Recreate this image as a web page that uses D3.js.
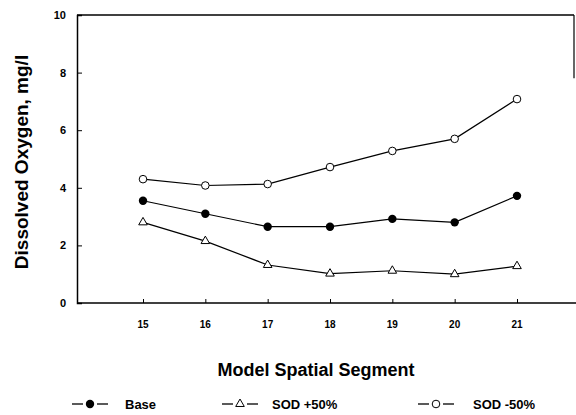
<!DOCTYPE html>
<html>
<head>
<meta charset="utf-8">
<script src="https://cdn.jsdelivr.net/npm/d3@7"></script>
<style>
  body { margin: 0; background: #fff; }
  text { font-family: "Liberation Sans", Arial, sans-serif; fill: #000; }
</style>
</head>
<body>
<div id="chart"></div>
<script>
// dissolved oxygen by model segment
const segments = [15, 16, 17, 18, 19, 20, 21];
const base = [3.55, 3.1, 2.65, 2.65, 2.92, 2.8, 3.72];
const sodPlus50 = [2.8, 2.15, 1.32, 1.02, 1.12, 1.0, 1.28];
const sodMinus50 = [4.3, 4.08, 4.13, 4.72, 5.28, 5.7, 7.08];
const yTicks = [0, 2, 4, 6, 8, 10];

const width = 576, height = 415;

const svg = d3.select('#chart')
  .append('svg')
  .attr('width', width)
  .attr('height', height);

const x = d3.scaleLinear().domain([15, 21]).range([143, 517]);
const y = d3.scaleLinear().domain([0, 10]).range([303, 15]);
const x0 = 77, x1 = 574;

// frame
svg.append('line').attr('x1', x0).attr('x2', x1).attr('y1', y(10)).attr('y2', y(10))
  .attr('stroke', '#000').attr('stroke-width', 1.5);
svg.append('line').attr('x1', x1).attr('x2', x1).attr('y1', y(10)).attr('y2', y(7.8))
  .attr('stroke', '#000').attr('stroke-width', 1.2);

// y axis
const yAxis = svg.append('g')
  .attr('transform', `translate(${x0},0)`)
  .call(d3.axisRight(y).tickValues(yTicks).tickSize(5).tickFormat(''));
yAxis.select('.domain').attr('stroke-width', 1.5);
svg.append('g').selectAll('text')
  .data(yTicks)
  .enter().append('text')
  .attr('x', 66)
  .attr('y', d => y(d) + 4)
  .attr('text-anchor', 'end')
  .attr('font-size', 11)
  .attr('font-weight', 'bold')
  .text(d => d);

// x axis
const xAxis = svg.append('g')
  .attr('transform', `translate(0,${y(0)})`)
  .call(d3.axisTop(x).tickValues(segments).tickSize(4).tickFormat(''));
xAxis.select('.domain').attr('d', `M${x0},0H${x1 + 2}`).attr('stroke-width', 1.5);
svg.append('g').selectAll('text')
  .data(segments)
  .enter().append('text')
  .attr('x', d => x(d))
  .attr('y', 328)
  .attr('text-anchor', 'middle')
  .attr('font-size', 10)
  .attr('font-weight', 'bold')
  .text(d => d);

// titles
svg.append('text')
  .attr('transform', 'translate(28,162) rotate(-90)')
  .attr('text-anchor', 'middle')
  .attr('font-size', 19)
  .attr('font-weight', 'bold')
  .text('Dissolved Oxygen, mg/l');
svg.append('text')
  .attr('x', 316)
  .attr('y', 376)
  .attr('text-anchor', 'middle')
  .attr('font-size', 18)
  .attr('font-weight', 'bold')
  .text('Model Spatial Segment');

// series
const series = [
  {name: 'Base', values: base, marker: 'dot'},
  {name: 'SOD +50%', values: sodPlus50, marker: 'tri'},
  {name: 'SOD -50%', values: sodMinus50, marker: 'circ'}
];

const line = d3.line()
  .x((d, i) => x(segments[i]))
  .y(d => y(d));

function drawMarker(g, type, cx, cy) {
  if (type === 'dot') {
    g.append('circle').attr('cx', cx).attr('cy', cy).attr('r', 4.2).attr('fill', '#000');
  } else if (type === 'circ') {
    g.append('circle').attr('cx', cx).attr('cy', cy).attr('r', 3.8)
      .attr('fill', '#fff').attr('stroke', '#000').attr('stroke-width', 1);
  } else {
    g.append('path')
      .attr('d', d3.symbol().type(d3.symbolTriangle).size(32)())
      .attr('transform', `translate(${cx},${cy})`)
      .attr('fill', '#fff').attr('stroke', '#000').attr('stroke-width', 1);
  }
}

series.forEach(s => {
  svg.append('path')
    .datum(s.values)
    .attr('d', line)
    .attr('fill', 'none')
    .attr('stroke', '#000')
    .attr('stroke-width', 1.2);
  const g = svg.append('g');
  s.values.forEach((v, i) => drawMarker(g, s.marker, x(segments[i]), y(v)));
});

// legend
const legendItems = [
  {name: 'Base', marker: 'dot', lx: 72, tx: 125},
  {name: 'SOD +50%', marker: 'tri', lx: 222, tx: 272},
  {name: 'SOD -50%', marker: 'circ', lx: 418, tx: 473}
];
legendItems.forEach(d => {
  const g = svg.append('g');
  g.append('line').attr('x1', d.lx).attr('x2', d.lx + 11).attr('y1', 404).attr('y2', 404)
    .attr('stroke', '#000').attr('stroke-width', 1.3);
  g.append('line').attr('x1', d.lx + 25).attr('x2', d.lx + 36).attr('y1', 404).attr('y2', 404)
    .attr('stroke', '#000').attr('stroke-width', 1.3);
  drawMarker(g, d.marker, d.lx + 18, 404);
  g.append('text')
    .attr('x', d.tx)
    .attr('y', 409)
    .attr('font-size', 13)
    .attr('font-weight', 'bold')
    .text(d.name);
});
</script>
</body>
</html>
